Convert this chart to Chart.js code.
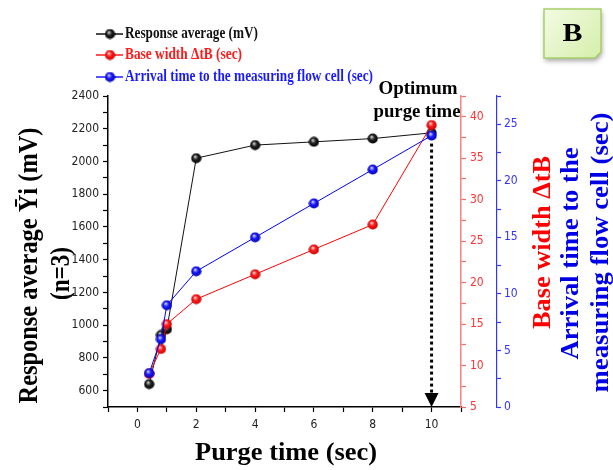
<!DOCTYPE html>
<html>
<head>
<meta charset="utf-8">
<script src="https://cdn.jsdelivr.net/npm/chart.js@4/dist/chart.umd.min.js"></script>
<style>
  body { margin: 0; background: #fff; }
  #wrap { width: 613px; height: 470px; position: relative; }
</style>
</head>
<body>
<div id="wrap"><canvas id="purgeChart" width="613" height="470"></canvas></div>
<script>
// purge time (sec)
const purgeTimes = [0.4, 0.8, 1, 2, 4, 6, 8, 10];
// series values
const responseAvg = [640, 940, 975, 2020, 2100, 2120, 2140, 2175];
const baseWidth = [9, 12, 15, 18, 21, 24, 27, 39];
const arrivalTime = [3, 6, 9, 12, 15, 18, 21, 24];

const seriesLabels = ['Response average (mV)', 'Base width \u0394tB (sec)', 'Arrival time to the measuring flow cell (sec)'];
const xTickLabels = [0, 2, 4, 6, 8, 10];

const SERIF = '"Liberation Serif", "Times New Roman", serif';
const SANS = '"Liberation Sans Narrow", "DejaVu Sans Condensed", "Liberation Sans", Arial, sans-serif';

// glossy ball markers
function makeBall(light, mid, dark) {
    const c = document.createElement('canvas');
    c.width = 11; c.height = 11;
    const g = c.getContext('2d');
    const grad = g.createRadialGradient(4.3, 3.8, 0.5, 5.5, 5.5, 5.5);
    grad.addColorStop(0, light);
    grad.addColorStop(0.4, mid);
    grad.addColorStop(1, dark);
    g.fillStyle = grad;
    g.beginPath();
    g.arc(5.5, 5.5, 5.1, 0, Math.PI * 2);
    g.fill();
    return c;
}
const ballBlack = makeBall('#c8c8c8', '#222', '#000');
const ballRed = makeBall('#ffc8c8', '#ff1a1a', '#c00000');
const ballBlue = makeBall('#c8c8ff', '#1a1aff', '#0000b0');

function pts(ys) {
    return purgeTimes.map((x, i) => ({ x: x, y: ys[i] }));
}

// draw text squeezed/stretched to a given length
function fitText(ctx, text, cx, cy, len, size, color, rot, align) {
    ctx.save();
    ctx.font = 'bold ' + size + 'px ' + SERIF;
    const w = ctx.measureText(text).width;
    ctx.translate(cx, cy);
    ctx.rotate(rot || 0);
    ctx.scale(len / w, 1);
    ctx.fillStyle = color;
    ctx.textAlign = align || 'center';
    ctx.textBaseline = 'middle';
    ctx.fillText(text, 0, 0);
    ctx.restore();
}

const extras = {
    id: 'extras',
    afterDatasetsDraw(chart) {
        const ctx = chart.ctx;
        const xs = chart.scales.x;
        const area = chart.chartArea;
        const px = xs.getPixelForValue(10);
        const yTop = chart.scales.yBlue.getPixelForValue(arrivalTime[7]) + 8;
        const yEnd = area.bottom - 14;

        // dotted arrow at optimum
        ctx.save();
        ctx.strokeStyle = '#000';
        ctx.lineWidth = 3;
        ctx.setLineDash([3, 3]);
        ctx.beginPath();
        ctx.moveTo(px, yTop);
        ctx.lineTo(px, yEnd);
        ctx.stroke();
        ctx.setLineDash([]);
        ctx.fillStyle = '#000';
        ctx.beginPath();
        ctx.moveTo(px - 7, yEnd);
        ctx.lineTo(px + 7, yEnd);
        ctx.lineTo(px, area.bottom);
        ctx.closePath();
        ctx.fill();
        ctx.restore();
    },
    afterDraw(chart) {
        const ctx = chart.ctx;
        const area = chart.chartArea;
        const midY = (area.top + area.bottom) / 2;
        const up = -Math.PI / 2;

        // axis titles
        fitText(ctx, 'Response average \u0232i (mV)', 30, midY + 14, 276, 28, '#000', up);
        fitText(ctx, '(n=3)', 62, midY + 22, 53, 27, '#000', up);
        fitText(ctx, 'Base width \u0394tB', 543, midY - 9, 173, 26, '#ff0000', up);
        fitText(ctx, 'Arrival time to the', 571, midY + 2, 212, 26, '#0000e6', up);
        fitText(ctx, 'measuring flow cell (sec)', 601, midY + 1, 280, 26, '#0000e6', up);
        fitText(ctx, 'Purge time (sec)', 286, 454, 182, 25, '#000');

        // annotation
        fitText(ctx, 'Optimum', 418, 89, 79, 19, '#000');
        fitText(ctx, 'purge time', 417, 112, 87, 19, '#000');

        // legend
        const colors = ['#111', '#ff1a1a', '#1a1aff'];
        const balls = [ballBlack, ballRed, ballBlue];
        const lens = [133, 117, 248];
        const rows = [34, 55, 77];
        seriesLabels.forEach((lab, i) => {
            ctx.save();
            ctx.strokeStyle = colors[i];
            ctx.lineWidth = 1.5;
            ctx.beginPath();
            ctx.moveTo(96, rows[i]);
            ctx.lineTo(123, rows[i]);
            ctx.stroke();
            ctx.drawImage(balls[i], 104.5, rows[i] - 5.5);
            ctx.restore();
            fitText(ctx, lab, 125, rows[i], lens[i], 17, colors[i], 0, 'left');
        });

        // "B" panel tag
        ctx.save();
        ctx.shadowColor = 'rgba(0,0,0,0.35)';
        ctx.shadowBlur = 5;
        ctx.shadowOffsetX = 1;
        ctx.shadowOffsetY = 3;
        const bx = 544, by = 9, bw = 57, bh = 49;
        const grad = ctx.createLinearGradient(bx, by, bx + bw, by + bh);
        grad.addColorStop(0, '#f3fbe4');
        grad.addColorStop(1, '#d5eeaa');
        ctx.fillStyle = grad;
        ctx.beginPath();
        ctx.moveTo(bx, by);
        ctx.lineTo(bx + bw, by);
        ctx.lineTo(bx + bw, by + bh - 6);
        ctx.lineTo(bx + bw - 6, by + bh);
        ctx.lineTo(bx, by + bh);
        ctx.closePath();
        ctx.fill();
        ctx.shadowColor = 'transparent';
        ctx.strokeStyle = '#a6cf6a';
        ctx.lineWidth = 1.5;
        ctx.stroke();
        ctx.restore();
        fitText(ctx, 'B', bx + bw / 2, by + bh / 2 + 1, 20, 26, '#000');
    }
};

new Chart(document.getElementById('purgeChart'), {
    type: 'line',
    data: {
        datasets: [{
            label: seriesLabels[0],
            data: pts(responseAvg),
            yAxisID: 'y',
            borderColor: '#111',
            borderWidth: 1,
            pointStyle: ballBlack,
            order: 2
        }, {
            label: seriesLabels[1],
            data: pts(baseWidth),
            yAxisID: 'yRed',
            borderColor: '#ff0000',
            borderWidth: 1,
            pointStyle: ballRed,
            order: 1
        }, {
            label: seriesLabels[2],
            data: pts(arrivalTime),
            yAxisID: 'yBlue',
            borderColor: '#0000ff',
            borderWidth: 1,
            pointStyle: ballBlue,
            order: 0
        }]
    },
    options: {
        responsive: false,
        animation: false,
        events: [],
        layout: { padding: { top: 96, left: 0, right: 0, bottom: 0 } },
        plugins: {
            legend: { display: false },
            tooltip: { enabled: false }
        },
        scales: {
            x: {
                type: 'linear',
                min: -1,
                max: 11,
                afterFit: s => { s.height = 63; },
                ticks: {
                    stepSize: 1,
                    padding: 6,
                    color: '#222',
                    font: { family: SANS, size: 12 },
                    maxRotation: 0,
                    autoSkip: false,
                    callback: v => xTickLabels.includes(v) ? String(v) : ''
                },
                grid: { drawOnChartArea: false, tickLength: 5, color: '#000', tickWidth: 1.2 },
                border: { color: '#000', width: 1.5 }
            },
            y: {
                position: 'left',
                min: 500,
                max: 2400,
                afterFit: s => { s.width = 108; },
                ticks: {
                    stepSize: 100,
                    padding: 4,
                    color: '#222',
                    font: { family: SANS, size: 12 },
                    autoSkip: false,
                    callback: v => (v % 200 === 0) ? String(v) : ''
                },
                grid: { drawOnChartArea: false, tickLength: 5, color: '#000', tickWidth: 1.2 },
                border: { color: '#000', width: 1.5 }
            },
            yRed: {
                position: 'right',
                min: 5,
                max: 42.5,
                afterFit: s => { s.width = 36; },
                ticks: {
                    stepSize: 2.5,
                    padding: 4,
                    color: '#ff3333',
                    font: { family: SANS, size: 12 },
                    autoSkip: false,
                    callback: v => (v % 5 === 0) ? String(v) : ''
                },
                grid: { drawOnChartArea: false, tickLength: 5, color: '#ff6a6a', tickWidth: 1.2 },
                border: { color: '#ff8080', width: 1.5 }
            },
            yBlue: {
                position: 'right',
                min: 0,
                max: 27.5,
                afterFit: s => { s.width = 116; },
                ticks: {
                    stepSize: 2.5,
                    padding: 3,
                    color: '#3333ff',
                    font: { family: SANS, size: 12 },
                    autoSkip: false,
                    callback: v => (v % 5 === 0) ? String(v) : ''
                },
                grid: { drawOnChartArea: false, tickLength: 4, color: '#3333ff', tickWidth: 1.2 },
                border: { color: '#3333ff', width: 1.2 }
            }
        }
    },
    plugins: [extras]
});
</script>
</body>
</html>
